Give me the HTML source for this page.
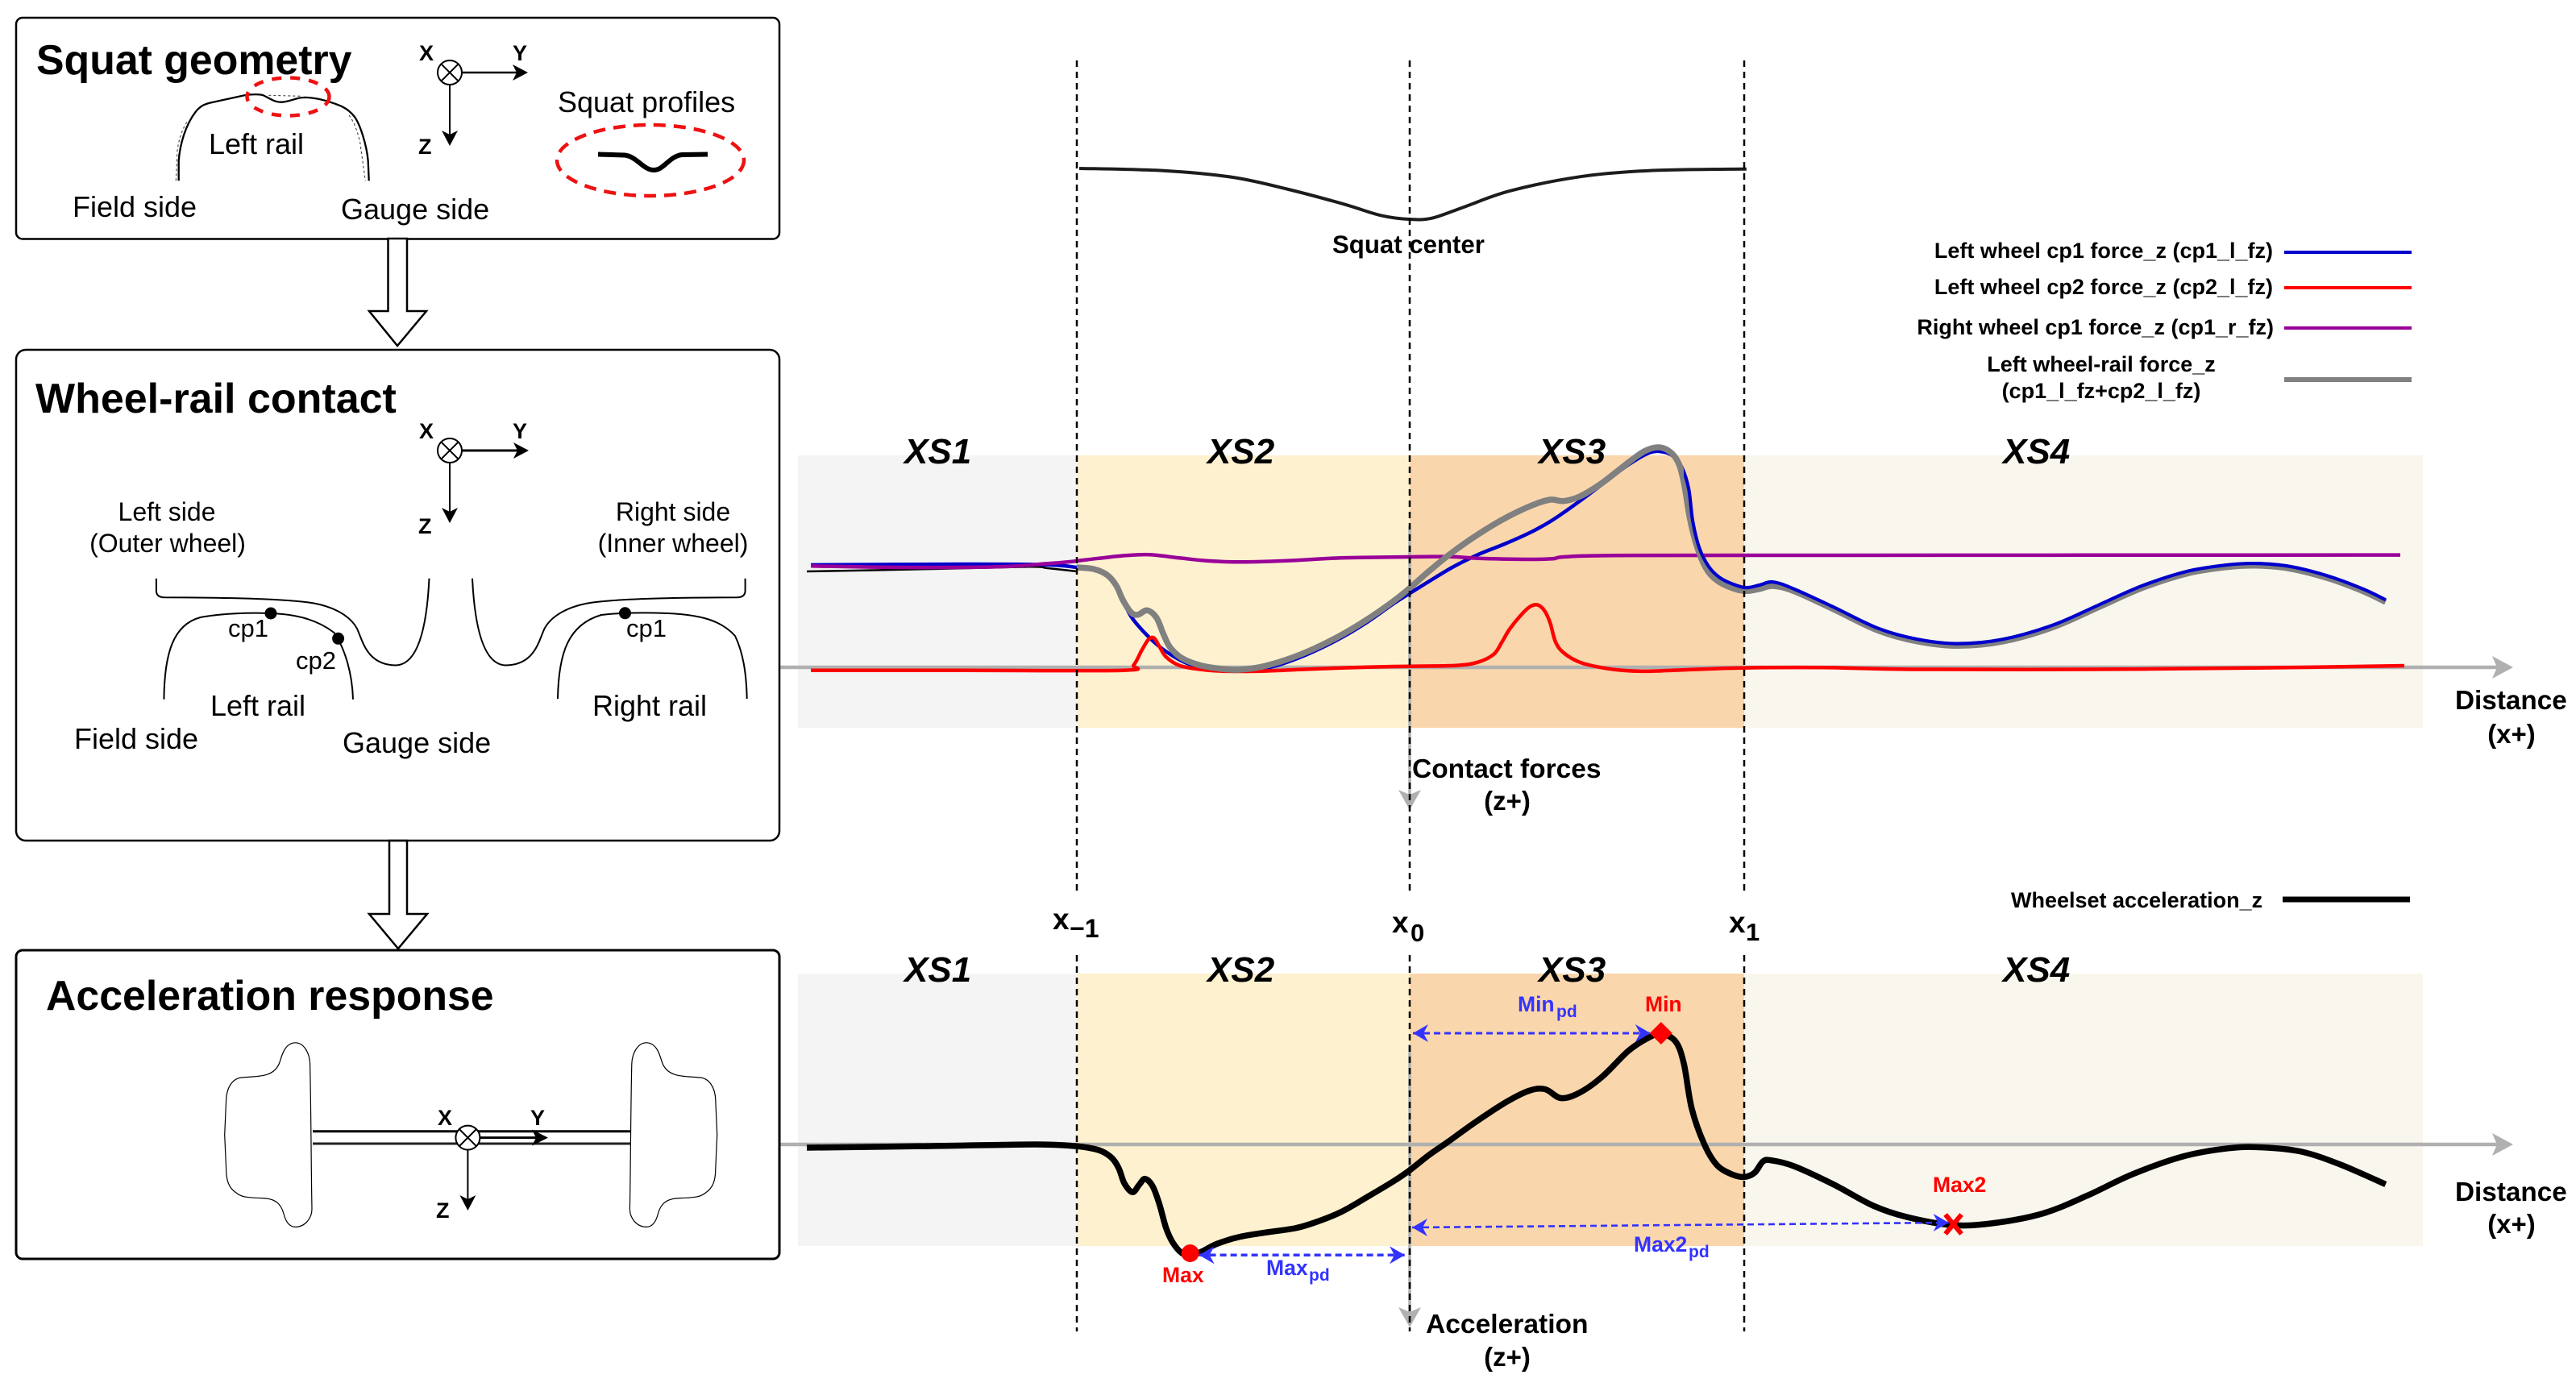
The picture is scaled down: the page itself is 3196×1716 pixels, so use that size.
<!DOCTYPE html>
<html lang="en">
<head>
<meta charset="utf-8">
<title>Squat geometry, wheel-rail contact and acceleration response</title>
<style>
html,body{margin:0;padding:0;background:#fff;}
svg{display:block;}
text{font-family:"Liberation Sans",Arial,sans-serif;fill:#000;}
.b{font-weight:bold;}
.xs{font-weight:bold;font-style:italic;font-size:44px;}
</style>
</head>
<body>
<svg id="fig" xmlns="http://www.w3.org/2000/svg" width="3196" height="1716" viewBox="0 0 3196 1716">
<rect x="0" y="0" width="3196" height="1716" fill="#ffffff"/>

<!-- Section bands -->
<g>
<rect x="990" y="565" width="346" height="338" fill="#f4f4f4"/>
<rect x="1336" y="565" width="413" height="338" fill="#fef1cf"/>
<rect x="1749" y="565" width="415" height="338" fill="#f9d6ac"/>
<rect x="2164" y="565" width="842" height="338" fill="#f9f6ed"/>
</g>
<g>
<rect x="990" y="1208" width="346" height="338" fill="#f4f4f4"/>
<rect x="1336" y="1208" width="413" height="338" fill="#fef1cf"/>
<rect x="1749" y="1208" width="415" height="338" fill="#f9d6ac"/>
<rect x="2164" y="1208" width="842" height="338" fill="#f9f6ed"/>
</g>

<!-- Grey axes -->
<g>
<line x1="968" y1="828" x2="3100" y2="828" stroke="#b0b0b0" stroke-width="4.5"/>
<polygon points="3118,828 3092,814 3098,828 3092,842" fill="#b0b0b0"/>
<line x1="1749" y1="653" x2="1749" y2="990" stroke="#b0b0b0" stroke-width="3.5"/>
<polygon points="1749,1005 1735,980 1749,986 1763,980" fill="#b0b0b0"/>
</g>
<g>
<line x1="968" y1="1420" x2="3100" y2="1420" stroke="#b0b0b0" stroke-width="4.5"/>
<polygon points="3118,1420 3092,1406 3098,1420 3092,1434" fill="#b0b0b0"/>
<line x1="1749" y1="1296" x2="1749" y2="1632" stroke="#b0b0b0" stroke-width="3.5"/>
<polygon points="1749,1647 1735,1622 1749,1628 1763,1622" fill="#b0b0b0"/>
</g>

<!-- Script-drawn series go here -->
<g id="series"></g>

<!-- Section boundaries -->
<g stroke="#000" stroke-width="2.5" stroke-dasharray="8 6" fill="none">
<line x1="1336" y1="75" x2="1336" y2="1110"/>
<line x1="1336" y1="1185" x2="1336" y2="1652"/>
<line x1="1749" y1="75" x2="1749" y2="1110"/>
<line x1="1749" y1="1185" x2="1749" y2="1652"/>
<line x1="2164" y1="75" x2="2164" y2="1110"/>
<line x1="2164" y1="1185" x2="2164" y2="1652"/>
</g>

<!-- Script-drawn markers go here -->
<g id="markers"></g>

<!-- Section labels -->
<g>
<text class="xs" x="1122" y="575">XS1</text>
<text class="xs" x="1498" y="575">XS2</text>
<text class="xs" x="1909" y="575">XS3</text>
<text class="xs" x="2485" y="575">XS4</text>
<text class="xs" x="1122" y="1218">XS1</text>
<text class="xs" x="1498" y="1218">XS2</text>
<text class="xs" x="1909" y="1218">XS3</text>
<text class="xs" x="2485" y="1218">XS4</text>
</g>

<!-- Chart text -->
<text class="b" x="1653" y="314" font-size="31.2">Squat center</text>
<text class="b" x="1752" y="965" font-size="33.5">Contact forces</text>
<text class="b" x="1870" y="1005" font-size="33" text-anchor="middle">(z+)</text>
<text class="b" x="3046" y="880" font-size="33.3">Distance</text>
<text class="b" x="3116" y="922" font-size="33" text-anchor="middle">(x+)</text>
<text class="b" x="3046" y="1490" font-size="33.3">Distance</text>
<text class="b" x="3116" y="1530" font-size="33" text-anchor="middle">(x+)</text>
<text class="b" x="1769" y="1654" font-size="33.6">Acceleration</text>
<text class="b" x="1870" y="1695" font-size="33" text-anchor="middle">(z+)</text>

<g>
<text class="b" x="1306" y="1153" font-size="37">x</text>
<text class="b" x="1327" y="1163" font-size="32">−1</text>
</g>
<g>
<text class="b" x="1727" y="1157" font-size="37">x</text>
<text class="b" x="1750" y="1168" font-size="31">0</text>
</g>
<g>
<text class="b" x="2145" y="1157" font-size="37">x</text>
<text class="b" x="2166" y="1167" font-size="31">1</text>
</g>

<!-- Legends -->
<g>
<g>
<text class="b" x="2820" y="320" font-size="27" text-anchor="end">Left wheel cp1 force_z (cp1_l_fz)</text>
<line x1="2834" y1="313" x2="2992" y2="313" stroke="#0000cc" stroke-width="4"/>
</g>
<g>
<text class="b" x="2820" y="365" font-size="27" text-anchor="end">Left wheel cp2 force_z (cp2_l_fz)</text>
<line x1="2834" y1="357" x2="2992" y2="357" stroke="#ff0000" stroke-width="4"/>
</g>
<g>
<text class="b" x="2821" y="415" font-size="27" text-anchor="end">Right wheel cp1 force_z (cp1_r_fz)</text>
<line x1="2834" y1="407" x2="2992" y2="407" stroke="#990099" stroke-width="4"/>
</g>
<g>
<text class="b" x="2607" y="461" font-size="27" text-anchor="middle">Left wheel-rail force_z</text>
<text class="b" x="2607" y="494" font-size="27" text-anchor="middle">(cp1_l_fz+cp2_l_fz)</text>
<line x1="2834" y1="471" x2="2992" y2="471" stroke="#808080" stroke-width="6"/>
</g>
</g>
<g>
<text class="b" x="2495" y="1126" font-size="27">Wheelset acceleration_z</text>
<line x1="2832" y1="1116" x2="2990" y2="1116" stroke="#000" stroke-width="7"/>
</g>

<!-- Feature labels -->
<text class="b" x="2041" y="1255" font-size="26.5" style="fill:#ff0000">Min</text>
<text class="b" x="1442" y="1591" font-size="26.5" style="fill:#ff0000">Max</text>
<text class="b" x="2398" y="1479" font-size="26.5" style="fill:#ff0000">Max2</text>
<g>
<text class="b" x="1883" y="1255" font-size="26.5" style="fill:#3333ff">Min</text>
<text class="b" x="1931" y="1262" font-size="21" style="fill:#3333ff">pd</text>
</g>
<g>
<text class="b" x="1571" y="1582" font-size="26.5" style="fill:#3333ff">Max</text>
<text class="b" x="1624" y="1589" font-size="21" style="fill:#3333ff">pd</text>
</g>
<g>
<text class="b" x="2027" y="1553" font-size="26.5" style="fill:#3333ff">Max2</text>
<text class="b" x="2095" y="1560" font-size="21" style="fill:#3333ff">pd</text>
</g>

<!-- Panel 1 -->
<g>
<rect x="20" y="22" width="947" height="274.5" rx="8" fill="#fff" stroke="#000" stroke-width="2.5"/>
<text class="b" x="45" y="92" font-size="51.8">Squat geometry</text>
<path d="M218.3,224.3 L220,186.7 C222,172 226,160 233,150 M433,143 C440,152 444,165 446.7,176.7 L453.3,224.3 M333.3,118.3 L373,119.3" fill="none" stroke="#444" stroke-width="1.1" stroke-dasharray="3 3"/>
<path d="M221.7,224.3 L221.7,200 C223,180 230,155 243,138.3 C249,131 255,129 260,127.7 L303.3,118.3 C312,117 320,116.5 326,118 C335,122 340,127 350,126.7 C360,126 368,121 376.7,121 C388,120.5 405,124 423.3,131.7 C432,136 436,140 440,145 C447,155 455,180 456.7,200 L457.7,224.3" fill="none" stroke="#000" stroke-width="2.3"/>
<ellipse cx="357.5" cy="120" rx="51" ry="23.5" fill="none" stroke="#ee1111" stroke-width="4.5" stroke-dasharray="12 11"/>
<text x="259" y="191" font-size="36">Left rail</text>
<text x="90" y="269" font-size="36">Field side</text>
<text x="423" y="272" font-size="36">Gauge side</text>
<text x="692" y="139" font-size="36">Squat profiles</text>
<ellipse cx="807" cy="199" rx="116" ry="44" fill="none" stroke="#ee1111" stroke-width="4.5" stroke-dasharray="15 10"/>
<path d="M742,191.5 L775,192.5 C790,194 798,211 811,211 C824,211 830,194 846,192 L878,191.5" fill="none" stroke="#000" stroke-width="6"/>
<g>
<circle cx="558" cy="90" r="15" fill="#fff" stroke="#000" stroke-width="2"/>
<path d="M547.4,79.4 L568.6,100.6 M568.6,79.4 L547.4,100.6" stroke="#000" stroke-width="2"/>
<line x1="573" y1="90" x2="648" y2="90" stroke="#000" stroke-width="2.5"/>
<polygon points="655,90 636,80 641,90 636,100" fill="#000"/>
<line x1="558" y1="105" x2="558" y2="172" stroke="#000" stroke-width="2"/>
<polygon points="558,181 548,162 558,167 568,162" fill="#000"/>
<text class="b" x="520" y="75" font-size="27">X</text>
<text class="b" x="636" y="75" font-size="27">Y</text>
<text class="b" x="519" y="191" font-size="27">Z</text>
</g>
</g>

<!-- Block arrows -->
<polygon points="481.5,296 505,296 505,386 529,386 493,429 458,386 481.5,386" fill="#fff" stroke="#000" stroke-width="2.5"/>
<polygon points="483,1043 505,1043 505,1134 530,1134 494,1177 458,1134 483,1134" fill="#fff" stroke="#000" stroke-width="2.5"/>

<!-- Panel 2 -->
<g>
<rect x="20" y="434" width="947" height="609" rx="12" fill="none" stroke="#000" stroke-width="2.5"/>
<text class="b" x="44" y="512" font-size="52">Wheel-rail contact</text>
<g>
<circle cx="558" cy="559" r="15" fill="#fff" stroke="#000" stroke-width="2"/>
<path d="M547.4,548.4 L568.6,569.6 M568.6,548.4 L547.4,569.6" stroke="#000" stroke-width="2"/>
<line x1="573" y1="559" x2="648" y2="559" stroke="#000" stroke-width="3"/>
<polygon points="656,559 637,549 642,559 637,569" fill="#000"/>
<line x1="558" y1="574" x2="558" y2="640" stroke="#000" stroke-width="2"/>
<polygon points="558,649 548,630 558,635 568,630" fill="#000"/>
<text class="b" x="520" y="544" font-size="27">X</text>
<text class="b" x="636" y="544" font-size="27">Y</text>
<text class="b" x="519" y="662" font-size="27">Z</text>
</g>
<text x="207" y="646" font-size="32" text-anchor="middle">Left side</text>
<text x="208" y="685" font-size="32" text-anchor="middle">(Outer wheel)</text>
<text x="835" y="646" font-size="32" text-anchor="middle">Right side</text>
<text x="835" y="685" font-size="32" text-anchor="middle">(Inner wheel)</text>
<path d="M193.9,717.7 V733 Q193.9,741 204,741.3 C260,741.5 340,742 383,747.5 C415,752 435,765 443,780 C450,795 455,825 491,825.5 C515,825 529,790 532.5,717.7" fill="none" stroke="#000" stroke-width="2"/>
<path transform="translate(1118.5 0) scale(-1 1)" d="M193.9,717.7 V733 Q193.9,741 204,741.3 C260,741.5 340,742 383,747.5 C415,752 435,765 443,780 C450,795 455,825 491,825.5 C515,825 529,790 532.5,717.7" fill="none" stroke="#000" stroke-width="2"/>
<path d="M203.4,867.8 C204,810 215,775 248.7,766 C275,761 310,760 335,761 C370,762 395,770 414.5,785 C428,805 437,835 438,867.8" fill="none" stroke="#000" stroke-width="2"/>
<path d="M692,867 C693,810 705,775 746,763 C770,760 800,760 829,761 C870,763 895,770 912,789 C922,810 926,835 926.7,867" fill="none" stroke="#000" stroke-width="2"/>
<circle cx="336" cy="761" r="7.5" fill="#000"/>
<circle cx="419.6" cy="792.3" r="7.5" fill="#000"/>
<circle cx="775.5" cy="760.8" r="7.5" fill="#000"/>
<text x="283" y="790" font-size="31">cp1</text>
<text x="367" y="830" font-size="31">cp2</text>
<text x="777" y="790" font-size="31">cp1</text>
<text x="261" y="888" font-size="36">Left rail</text>
<text x="735" y="888" font-size="36">Right rail</text>
<text x="92" y="929" font-size="36">Field side</text>
<text x="425" y="934" font-size="36">Gauge side</text>
</g>

<!-- Panel 3 -->
<g>
<rect x="20" y="1179" width="947" height="383" rx="8" fill="none" stroke="#000" stroke-width="3"/>
<text class="b" x="57" y="1253" font-size="51.8">Acceleration response</text>
<path d="M366.7,1293.8 C376,1293.8 384,1305 384.6,1320 C386,1380 386,1450 387,1500 C387,1512 378,1522.4 366.7,1522.4 C358,1522.4 354,1514 352,1506 C349,1495 343,1487 325,1486.6 C305,1486 299,1485 293,1480 C284,1474 280.6,1465 280.6,1450 L278.7,1408 L280.6,1365 C281,1350 288,1338 300,1337 C318,1335 340,1338 347,1318 C350,1308 354,1293.8 366.7,1293.8 Z" fill="none" stroke="#000" stroke-width="1.2"/>
<path transform="translate(1168.4 0) scale(-1 1)" d="M366.7,1293.8 C376,1293.8 384,1305 384.6,1320 C386,1380 386,1450 387,1500 C387,1512 378,1522.4 366.7,1522.4 C358,1522.4 354,1514 352,1506 C349,1495 343,1487 325,1486.6 C305,1486 299,1485 293,1480 C284,1474 280.6,1465 280.6,1450 L278.7,1408 L280.6,1365 C281,1350 288,1338 300,1337 C318,1335 340,1338 347,1318 C350,1308 354,1293.8 366.7,1293.8 Z" fill="none" stroke="#000" stroke-width="1.2"/>
<line x1="388" y1="1403.7" x2="782.5" y2="1403.7" stroke="#000" stroke-width="3"/>
<line x1="388" y1="1419" x2="782.5" y2="1419" stroke="#222" stroke-width="3"/>
<g>
<circle cx="580.4" cy="1411.6" r="15" fill="#fff" stroke="#000" stroke-width="2"/>
<path d="M569.8,1401 L591,1422.2 M591,1401 L569.8,1422.2" stroke="#000" stroke-width="2"/>
<line x1="595.5" y1="1411.6" x2="672" y2="1411.6" stroke="#000" stroke-width="3"/>
<polygon points="680,1411.6 660,1401.6 665,1411.6 660,1421.6" fill="#000"/>
<line x1="580.4" y1="1427" x2="580.4" y2="1493" stroke="#000" stroke-width="2"/>
<polygon points="580.4,1502 570.4,1483 580.4,1488 590.4,1483" fill="#000"/>
<text class="b" x="543" y="1396" font-size="27">X</text>
<text class="b" x="658" y="1396" font-size="27">Y</text>
<text class="b" x="541" y="1511" font-size="27">Z</text>
</g>
</g>
</svg>

<script>
// ---- Axis data (distance: 100 units ~ one squat half-length; response values: positive z is downward) ----
const sectionBoundaries = [-103.25, 0, 103.75];
const sectionNames = ['XS1', 'XS2', 'XS3', 'XS4'];

const squatDistance = [-102.5,-76.4,-54.85,-37.6,-20.4,-8.95,-0.3,6.9,16.95,31.25,52.75,74.3,104.45];
const squatDepth = [0,1.35,5.5,13,22.15,29.15,31.5,30.85,23.85,13.85,5.15,1.35,0.35];

const cp1LeftDistance = [-185.75,-138,-112.25,-103.15,-98.25,-93.9,-91,-86.4,-80.6,-75.6,-68.9,-61.4,-53.1,-44.75,-38.1,-29.75,-21.4,-13.1,-4.75,0.25,12.75,21.1,29.4,37.75,44.4,52.75,61.1,67.75,74.4,78.6,81.9,84.4,86.5,87.75,89.8,92.75,96.1,100.25,104.4,108.6,112.75,119.2,131.4,145.4,157.65,169.9,183.85,199.6,213.6,227.5,241.5,253.75,262.5,273,285.25,295.7,302.7];
const cp1LeftForce = [-63.5,-64,-63.65,-62,-61,-57.35,-49.85,-31.5,-18.15,-9.85,-2.35,1,2.35,0.5,-3.15,-9.85,-18.15,-28.15,-39.85,-46.2,-61.5,-69.85,-76.5,-84,-91.5,-103.15,-115.65,-125.65,-133.15,-133.65,-130.65,-124,-110.65,-90.65,-74,-62.35,-55.65,-51.5,-49.35,-51,-52.85,-48.5,-37.35,-24,-17.25,-14.6,-17.25,-26.2,-38.5,-50.75,-59.65,-63.5,-64.35,-62.5,-56.3,-48.5,-41.8];

const totalLeftDistance = [-103.25,-98.1,-93.9,-91,-88.9,-86.4,-84.3,-81.4,-78.5,-76.4,-74.3,-70.6,-64.75,-58.1,-53.1,-46.4,-38.1,-29.75,-21.4,-13.1,-4.75,0.25,6.1,12.75,21.1,29.4,37.75,43.6,47.75,52.75,59.4,66.9,72.75,77.3,81.1,83.6,85.25,86.9,89,91.9,95.25,100.25,104.4,108.5,112.75,119.2,131.4,145.4,157.65,169.9,183.85,199.6,213.6,227.5,241.5,253.75,262.5,273,285.25,295.7,302.7];
const totalLeftForce = [-62,-61,-57.35,-50.65,-41.5,-34,-32.65,-35.35,-30.65,-20.65,-12.35,-5.65,-1.15,1,1.5,-0.15,-4.85,-11.5,-19.85,-29.85,-41.5,-49.6,-59.85,-70.65,-82.35,-92.35,-100.35,-104,-103.15,-106,-114,-125.65,-134,-136.5,-133.15,-125.65,-112.35,-92.35,-75.65,-61.5,-54,-49,-47.35,-48.65,-50.5,-47.25,-36.1,-22.75,-16,-13.35,-16,-24.95,-37.25,-49.5,-58.4,-62.25,-63.1,-61.25,-55.05,-47.25,-40.55];

const cp2LeftDistance = [-185.75,-138,-88.9,-85.6,-83.1,-81,-79.3,-77.7,-75.6,-71.4,-64.75,-58.1,-46.4,-29.75,-13.1,0.25,14.4,21.1,26.1,28.6,31.1,35.25,37.75,39.8,41.9,43.6,45.25,47.75,52.75,59.4,67.75,75.25,87.75,103.6,128,157.65,210,262.5,308.5];
const cp2LeftForce = [1.85,1.85,1.85,-1.5,-10.65,-17.35,-18.15,-13.15,-6.5,-1.15,1.35,2.35,2.35,1,-0.15,-0.65,-1.15,-3.15,-8.15,-15.65,-24,-34,-38.15,-38.65,-34.85,-27.35,-15.65,-9,-3.15,0.15,2.15,2.35,1.35,0.35,0.15,1.25,1.25,0.35,-1];

const cp1RightDistance = [-185.75,-157.75,-128,-112.25,-104.75,-96.4,-88.1,-80.6,-71.4,-63.1,-53.1,-38.1,-21.4,-0.6,12.75,21.1,37.75,44.4,47.75,62.75,112.75,307.25];
const cp1RightForce = [-62.85,-62,-62.35,-64.35,-65.65,-67.65,-69.35,-69.85,-67.85,-66.15,-65.35,-66.15,-67.85,-68.5,-68.65,-67.65,-67,-67.35,-68.5,-69.35,-69.5,-69.7];

const leadInDistance = [-187,-147.8,-118.2,-112.25,-103.15];
const leadInForce = [-59.5,-61,-62.35,-61.5,-59.5];

const accDistance = [-187,-147.8,-116.25,-104.75,-99.75,-95.6,-92.25,-90.2,-88.5,-86,-83.9,-82.1,-79.75,-77.7,-75.6,-73.5,-70.6,-68.1,-64.75,-59.75,-53.1,-44.75,-35.6,-29.75,-21.4,-13.1,-4.75,0,6.1,11.9,20.25,30.1,37,42,46.95,52.85,59.75,67.7,73.6,77.95,82.5,85.05,87.45,91.4,95.35,100.25,103.85,107,109.6,112.25,119.2,131.4,143.65,154.15,168.1,180.35,196.1,210.1,224,239.75,253.75,264.25,276.5,288.7,302.7];
const accValue = [2,1,0,0.85,2,4.15,8.65,15,24.15,29.65,25,21.35,25.85,36.65,51.65,60.85,67.5,68.5,66.65,61.65,57.5,54.65,52,48.65,42,32.5,22.5,16,6.4,-1.65,-13.65,-26.5,-33.3,-34.25,-28.75,-32.3,-42.1,-57.85,-65.7,-68.65,-63.75,-50,-22.5,0,12.9,18.8,20.15,17.5,10.5,9.9,13.5,24.75,37.9,45,50,49,43,31.8,18.65,7.5,2.4,1.8,4.45,12.5,24.75];

const maxPoint = [-68.1, 67.5];
const minPoint = [77.95, -69];
const max2Point = [168.65, 49.5];

// ---- Axis functions ----
function xScale(d) { return 1749 + d * 4; }
function squatY(v) { return 209 + v * 2; }
function forceY(v) { return 828 + v * 2; }
function accY(v) { return 1420 + v * 2; }

const SVG_NS = 'http://www.w3.org/2000/svg';
const seriesLayer = document.getElementById('series');
const markerLayer = document.getElementById('markers');

function smoothPath(ds, vs, yFn) {
  const pts = ds.map(function (d, i) { return [xScale(d), yFn(vs[i])]; });
  let s = 'M' + pts[0][0].toFixed(1) + ',' + pts[0][1].toFixed(1);
  for (let i = 0; i < pts.length - 1; i++) {
    const p0 = pts[Math.max(i - 1, 0)];
    const p1 = pts[i];
    const p2 = pts[i + 1];
    const p3 = pts[Math.min(i + 2, pts.length - 1)];
    const c1x = p1[0] + (p2[0] - p0[0]) / 6;
    const c1y = p1[1] + (p2[1] - p0[1]) / 6;
    const c2x = p2[0] - (p3[0] - p1[0]) / 6;
    const c2y = p2[1] - (p3[1] - p1[1]) / 6;
    s += ' C' + c1x.toFixed(1) + ',' + c1y.toFixed(1) + ' ' + c2x.toFixed(1) + ',' + c2y.toFixed(1) + ' ' + p2[0].toFixed(1) + ',' + p2[1].toFixed(1);
  }
  return s;
}

function makeLine(ds, vs, yFn, color, width) {
  const el = document.createElementNS(SVG_NS, 'path');
  el.setAttribute('d', smoothPath(ds, vs, yFn));
  el.setAttribute('fill', 'none');
  el.setAttribute('stroke', color);
  el.setAttribute('stroke-width', width);
  el.setAttribute('stroke-linejoin', 'round');
  seriesLayer.appendChild(el);
  return el;
}

// clip for the portion of cp1 that lies on top of the total force
const defs = document.createElementNS(SVG_NS, 'defs');
const clip = document.createElementNS(SVG_NS, 'clipPath');
clip.setAttribute('id', 'afterPeak');
const clipRect = document.createElementNS(SVG_NS, 'rect');
clipRect.setAttribute('x', xScale(85));
clipRect.setAttribute('y', 0);
clipRect.setAttribute('width', 1400);
clipRect.setAttribute('height', 1716);
clip.appendChild(clipRect);
defs.appendChild(clip);
seriesLayer.appendChild(defs);

const squatLine = makeLine(squatDistance, squatDepth, squatY, '#1c1c1c', 4);



const leadInLine = makeLine(leadInDistance, leadInForce, forceY, '#000000', 2.5);



const cp1LeftLine = makeLine(cp1LeftDistance, cp1LeftForce, forceY, '#0000cc', 4.5);



const cp1RightLine = makeLine(cp1RightDistance, cp1RightForce, forceY, '#990099', 4.5);



const cp2LeftLine = makeLine(cp2LeftDistance, cp2LeftForce, forceY, '#ff0000', 4.5);



const totalLeftLine = makeLine(totalLeftDistance, totalLeftForce, forceY, '#808080', 7.5);



const cp1LeftOverlay = makeLine(cp1LeftDistance, cp1LeftForce, forceY, '#0000cc', 3.8);
cp1LeftOverlay.setAttribute('clip-path', 'url(#afterPeak)');



const accLine = makeLine(accDistance, accValue, accY, '#000000', 7.5);



// ---- Markers ----
const maxDot = document.createElementNS(SVG_NS, 'circle');
maxDot.setAttribute('cx', xScale(maxPoint[0]));
maxDot.setAttribute('cy', accY(maxPoint[1]));
maxDot.setAttribute('r', 11);
maxDot.setAttribute('fill', '#ff0000');


markerLayer.appendChild(maxDot);

const minX = xScale(minPoint[0]);
const minY = accY(minPoint[1]);
const minDiamond = document.createElementNS(SVG_NS, 'polygon');
minDiamond.setAttribute('points', minX + ',' + (minY - 14) + ' ' + (minX + 14) + ',' + minY + ' ' + minX + ',' + (minY + 14) + ' ' + (minX - 14) + ',' + minY);
minDiamond.setAttribute('fill', '#ff0000');


markerLayer.appendChild(minDiamond);

// ---- Peak-distance arrows ----
function makeArrow(x1, y1, x2, y2, width) {
  const g = document.createElementNS(SVG_NS, 'g');
  const ln = document.createElementNS(SVG_NS, 'line');
  ln.setAttribute('x1', x1);
  ln.setAttribute('y1', y1);
  ln.setAttribute('x2', x2);
  ln.setAttribute('y2', y2);
  ln.setAttribute('stroke', '#3333ff');
  ln.setAttribute('stroke-width', width);
  ln.setAttribute('stroke-dasharray', '8 5');
  g.appendChild(ln);
  [[x1, y1, 1], [x2, y2, -1]].forEach(function (e) {
    const h = document.createElementNS(SVG_NS, 'polygon');
    const x = e[0], y = e[1], s = e[2];
    h.setAttribute('points', x + ',' + y + ' ' + (x + s * 19) + ',' + (y - 11) + ' ' + (x + s * 13) + ',' + y + ' ' + (x + s * 19) + ',' + (y + 11));
    h.setAttribute('fill', '#3333ff');
    g.appendChild(h);
  });
  markerLayer.appendChild(g);
  return g;
}

const minArrow = makeArrow(xScale(0) + 4, minY, minX - 13, minY, 3);



const maxArrow = makeArrow(xScale(maxPoint[0]) + 11, accY(maxPoint[1]) + 2.3, xScale(0) - 6, accY(maxPoint[1]) + 2.3, 3.5);



const max2Arrow = makeArrow(xScale(0) + 3, accY(max2Point[1]) + 4, xScale(max2Point[0]) - 6, accY(max2Point[1]) - 2, 2.6);



const max2X = xScale(max2Point[0]);
const max2Y = accY(max2Point[1]);
const max2Cross = document.createElementNS(SVG_NS, 'path');
max2Cross.setAttribute('d', 'M' + (max2X - 10) + ',' + (max2Y - 12) + ' L' + (max2X + 10) + ',' + (max2Y + 12) + ' M' + (max2X + 10) + ',' + (max2Y - 12) + ' L' + (max2X - 10) + ',' + (max2Y + 12));
max2Cross.setAttribute('stroke', '#ff0000');
max2Cross.setAttribute('stroke-width', 6);
max2Cross.setAttribute('fill', 'none');


markerLayer.appendChild(max2Cross);
</script>
</body>
</html>
